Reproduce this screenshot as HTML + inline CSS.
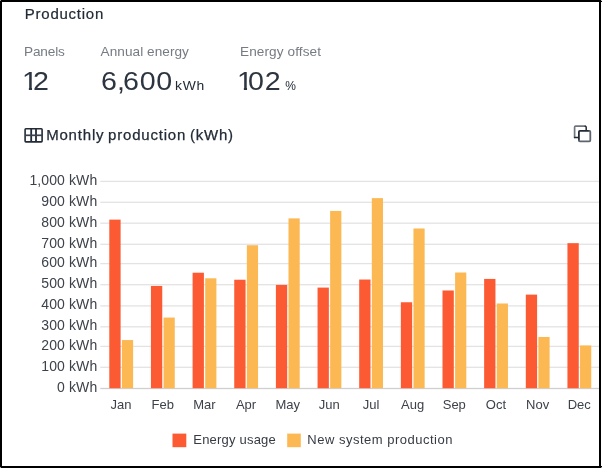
<!DOCTYPE html>
<html><head><meta charset="utf-8"><title>Production</title>
<style>
html,body{margin:0;padding:0;background:#fff;}
body{width:602px;height:468px;overflow:hidden;position:relative;font-family:"Liberation Sans",sans-serif;color:#222b36;}
.bd{position:absolute;background:#000;}
.cn{position:absolute;width:1px;height:1px;background:#999;}
.t{position:absolute;white-space:nowrap;line-height:1;}
.gray{color:#767b83;}
.big{color:#2c3540;font-size:26.5px;transform:scaleX(1.08);transform-origin:0 0;letter-spacing:0.75px;}
.one{display:inline-block;margin-right:-5.4px;clip-path:polygon(0 0,100% 0,100% 74%,60% 74%,60% 100%,41% 100%,41% 74%,0 74%);}
.cm{letter-spacing:-2px;margin-left:-0.6px;}
.yl{position:absolute;left:0;width:97.3px;text-align:right;font-size:14px;line-height:17px;height:17px;color:#3d424a;letter-spacing:0.1px;white-space:nowrap;}
.xl{position:absolute;top:396px;width:40px;text-align:center;font-size:13px;line-height:17px;color:#3d424a;white-space:nowrap;}
svg{position:absolute;left:0;top:0;}
</style></head><body>
<svg width="602" height="468" viewBox="0 0 602 468">
<rect x="100.3" y="387.85" width="498.7" height="1.3" fill="#cfcfcf"/>
<rect x="100.3" y="366.65" width="498.7" height="1.3" fill="#e3e3e3"/>
<rect x="100.3" y="345.75" width="498.7" height="1.3" fill="#e3e3e3"/>
<rect x="100.3" y="326.15" width="498.7" height="1.3" fill="#e3e3e3"/>
<rect x="100.3" y="305.25" width="498.7" height="1.3" fill="#e3e3e3"/>
<rect x="100.3" y="284.05" width="498.7" height="1.3" fill="#e3e3e3"/>
<rect x="100.3" y="262.95" width="498.7" height="1.3" fill="#e3e3e3"/>
<rect x="100.3" y="243.65" width="498.7" height="1.3" fill="#e3e3e3"/>
<rect x="100.3" y="222.55" width="498.7" height="1.3" fill="#e3e3e3"/>
<rect x="100.3" y="201.65" width="498.7" height="1.3" fill="#e3e3e3"/>
<rect x="100.3" y="180.75" width="498.7" height="1.3" fill="#e3e3e3"/>
<rect x="109.30" y="219.62" width="11.3" height="168.58" fill="#fb5a32"/>
<rect x="121.90" y="340.07" width="11.2" height="48.13" fill="#fcb852"/>
<rect x="150.95" y="285.94" width="11.3" height="102.26" fill="#fb5a32"/>
<rect x="163.55" y="317.55" width="11.2" height="70.65" fill="#fcb852"/>
<rect x="192.60" y="272.72" width="11.3" height="115.48" fill="#fb5a32"/>
<rect x="205.20" y="278.30" width="11.2" height="109.90" fill="#fcb852"/>
<rect x="234.25" y="279.74" width="11.3" height="108.46" fill="#fb5a32"/>
<rect x="246.85" y="245.24" width="11.2" height="142.96" fill="#fcb852"/>
<rect x="275.90" y="284.91" width="11.3" height="103.29" fill="#fb5a32"/>
<rect x="288.50" y="218.38" width="11.2" height="169.82" fill="#fcb852"/>
<rect x="317.55" y="287.59" width="11.3" height="100.61" fill="#fb5a32"/>
<rect x="330.15" y="210.94" width="11.2" height="177.26" fill="#fcb852"/>
<rect x="359.20" y="279.53" width="11.3" height="108.67" fill="#fb5a32"/>
<rect x="371.80" y="198.13" width="11.2" height="190.07" fill="#fcb852"/>
<rect x="400.85" y="302.26" width="11.3" height="85.94" fill="#fb5a32"/>
<rect x="413.45" y="228.50" width="11.2" height="159.70" fill="#fcb852"/>
<rect x="442.50" y="290.48" width="11.3" height="97.72" fill="#fb5a32"/>
<rect x="455.10" y="272.51" width="11.2" height="115.69" fill="#fcb852"/>
<rect x="484.15" y="278.92" width="11.3" height="109.28" fill="#fb5a32"/>
<rect x="496.75" y="303.50" width="11.2" height="84.70" fill="#fcb852"/>
<rect x="525.80" y="294.62" width="11.3" height="93.58" fill="#fb5a32"/>
<rect x="538.40" y="336.97" width="11.2" height="51.23" fill="#fcb852"/>
<rect x="567.45" y="243.17" width="11.3" height="145.03" fill="#fb5a32"/>
<rect x="580.05" y="345.44" width="11.2" height="42.76" fill="#fcb852"/>
<!-- table icon -->
<g fill="none" stroke="#222b36" stroke-width="1.6">
<rect x="25.1" y="128.8" width="17" height="13.1" rx="0.8"/>
<path d="M31.2 128.8V141.9M36 128.8V141.9" stroke-width="1.8"/><path d="M25.1 135.3H42.1" stroke-width="1.7" stroke="#3a424c"/>
</g>
<!-- copy icon -->
<g fill="none" stroke-width="1.7" stroke-linecap="round" stroke-linejoin="round">
<path d="M574.6 137.4V127.2Q574.6 126.2 575.6 126.2H585.2" stroke="#6f757d"/>
<path d="M585.2 126.2Q586.2 126.2 586.2 127.2V131M574.6 137.4H579" stroke="#222b36" stroke-width="1.5"/>
<rect x="578.9" y="130.8" width="11.4" height="10.5" rx="1" fill="#fff" stroke="none"/>
<path d="M578.9 140.3V131.8Q578.9 130.8 579.9 130.8H589.3" stroke="#222b36" stroke-width="1.8"/>
<path d="M589.3 130.8Q590.3 130.8 590.3 131.8V140.3Q590.3 141.3 589.3 141.3H579.9Q578.9 141.3 578.9 140.3" stroke="#5d646d" stroke-width="1.8"/>
</g>
<rect x="172.5" y="433.6" width="13.8" height="13.6" fill="#fb5a32"/>
<rect x="287.2" y="433.6" width="13.6" height="13.6" fill="#fcb852"/>
</svg>
<div class="t" id="t1" style="left:24.8px;top:6.2px;font-size:15px;letter-spacing:0.75px;-webkit-text-stroke:0.2px #222b36;">Production</div>
<div class="t gray" id="t2" style="left:24px;top:45px;font-size:13.6px;letter-spacing:-0.15px;">Panels</div>
<div class="t gray" id="t3" style="left:100.6px;top:45px;font-size:13.6px;letter-spacing:0.05px;">Annual energy</div>
<div class="t gray" id="t4" style="left:240px;top:45px;font-size:13.6px;letter-spacing:0.1px;">Energy offset</div>
<div class="t big" id="t5" style="left:21.5px;top:67.6px;"><span class="one">1</span>2</div>
<div class="t big" id="t6" style="left:100.6px;top:67.6px;">6<span class="cm">,</span>600</div>
<div class="t" id="t7" style="left:175.3px;top:80px;font-size:12.3px;letter-spacing:0.6px;transform:scaleX(1.13);transform-origin:0 0;">kWh</div>
<div class="t big" id="t8" style="left:237px;top:67.6px;"><span class="one">1</span>02</div>
<div class="t" id="t9" style="left:285.2px;top:80px;font-size:12px;">%</div>
<div class="t" id="t10" style="left:46.2px;top:126.9px;font-size:15px;letter-spacing:0.8px;word-spacing:-1.2px;-webkit-text-stroke:0.25px #222b36;">Monthly production (kWh)</div>
<div class="yl" style="top:378.80px">0 kWh</div>
<div class="yl" style="top:357.60px">100 kWh</div>
<div class="yl" style="top:336.70px">200 kWh</div>
<div class="yl" style="top:317.10px">300 kWh</div>
<div class="yl" style="top:296.20px">400 kWh</div>
<div class="yl" style="top:275.00px">500 kWh</div>
<div class="yl" style="top:253.90px">600 kWh</div>
<div class="yl" style="top:234.60px">700 kWh</div>
<div class="yl" style="top:213.50px">800 kWh</div>
<div class="yl" style="top:192.60px">900 kWh</div>
<div class="yl" style="top:171.70px">1,000 kWh</div>
<div class="xl" style="left:101.10px">Jan</div>
<div class="xl" style="left:142.75px">Feb</div>
<div class="xl" style="left:184.40px">Mar</div>
<div class="xl" style="left:226.05px">Apr</div>
<div class="xl" style="left:267.70px">May</div>
<div class="xl" style="left:309.35px">Jun</div>
<div class="xl" style="left:351.00px">Jul</div>
<div class="xl" style="left:392.65px">Aug</div>
<div class="xl" style="left:434.30px">Sep</div>
<div class="xl" style="left:475.95px">Oct</div>
<div class="xl" style="left:517.60px">Nov</div>
<div class="xl" style="left:559.25px">Dec</div>
<div class="t" id="t11" style="left:193.3px;top:433px;font-size:13px;color:#363b43;letter-spacing:0.2px;">Energy usage</div>
<div class="t" id="t12" style="left:307.3px;top:433px;font-size:13px;color:#363b43;letter-spacing:0.5px;">New system production</div>
<div class="bd" style="left:0;top:0;width:602px;height:2px"></div><div class="bd" style="left:0;top:466px;width:602px;height:2px"></div><div class="bd" style="left:0;top:0;width:2px;height:468px"></div><div class="bd" style="left:599px;top:0;width:2px;height:468px"></div><div class="cn" style="left:0;top:0"></div><div class="cn" style="left:0;top:467px"></div><div class="cn" style="left:601px;top:0;background:#ccc"></div><div class="cn" style="left:601px;top:467px"></div>
</body></html>
